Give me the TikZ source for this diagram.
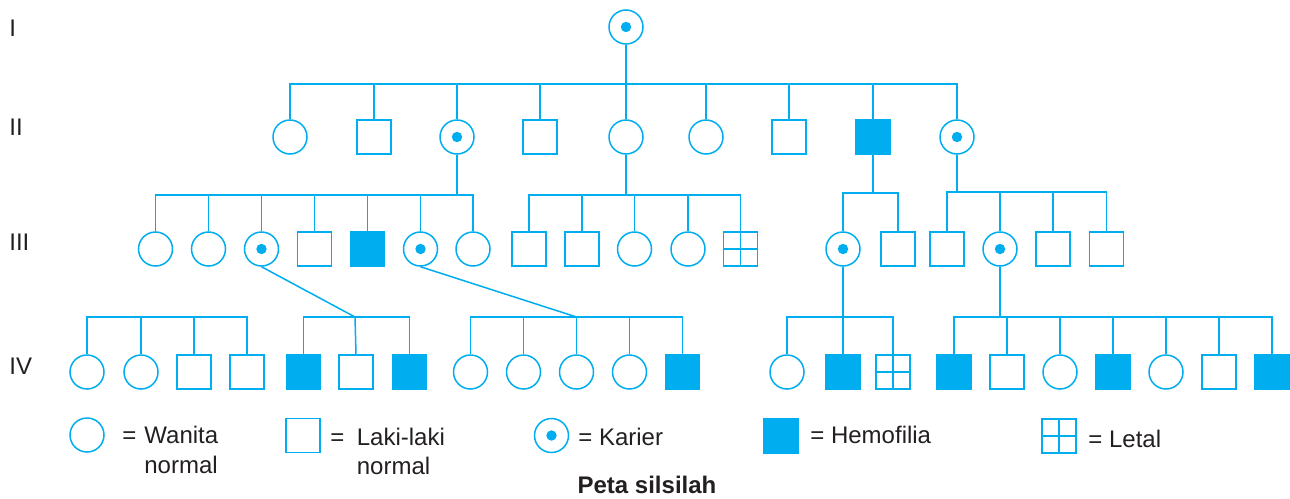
\documentclass[tikz,border=0pt]{standalone}
\usepackage{fontspec}
\setmainfont{Liberation Sans}
\usetikzlibrary{positioning}
\usepackage{xcolor}
\definecolor{silsilah}{HTML}{00AEEF}
\definecolor{teks}{HTML}{231F20}

\tikzset{
  person/.style={draw=silsilah, line width=0.75pt, inner sep=0pt, minimum size=17pt},
  female/.style={person, circle},
  male/.style={person, rectangle},
  carrier/.style={female, path picture={\fill[silsilah] (path picture bounding box.center) circle (2.6pt);}},
  hemofilia/.style={male, fill=silsilah},
  letal/.style={male, path picture={\draw[silsilah, line width=0.75pt]
      (path picture bounding box.north) -- (path picture bounding box.south)
      (path picture bounding box.west) -- (path picture bounding box.east);}},
  garis/.style={draw=silsilah, line width=0.75pt},
  gen/.style={anchor=west, inner sep=0pt, text=teks, font=\fontsize{12}{14}\selectfont},
  ket/.style={anchor=base west, inner sep=0pt, text=teks, font=\fontsize{12}{14}\selectfont}
}

\begin{document}
\begin{tikzpicture}[x=0.5pt, y=-0.5pt]
  \useasboundingbox (0,0) rectangle (1290,498);

  % generation labels
  \foreach \g/\y in {I/28, II/127, III/242, IV/366} {
      \node[gen] (lbl\g) at (9,\y) {\g};
    }

  % generation I
  \node[carrier] (I1) at (626,27) {};

  % generation II
  \foreach \n/\s/\x in {1/female/290, 2/male/374, 3/carrier/457, 4/male/540, 5/female/626,
      6/female/706, 7/male/789, 8/hemofilia/873, 9/carrier/957} {
      \node[\s] (II\n) at (\x,137) {};
    }

  % generation III
  \foreach \n/\s/\x in {1/female/155.5, 2/female/208.5, 3/carrier/261.5, 4/male/314.5,
      5/hemofilia/367.5, 6/carrier/420.5, 7/female/473, 8/male/529, 9/male/582,
      10/female/634.5, 11/female/688, 12/letal/740.5, 13/carrier/843, 14/male/898,
      15/male/947, 16/carrier/1000, 17/male/1053, 18/male/1106.5} {
      \node[\s] (III\n) at (\x,249) {};
    }

  % generation IV
  \foreach \n/\s/\x in {1/female/87, 2/female/141, 3/male/194, 4/male/247,
      5/hemofilia/303.5, 6/male/356, 7/hemofilia/409.5, 8/female/470.5, 9/female/523.5,
      10/female/576.5, 11/female/629.5, 12/hemofilia/682.5, 13/female/787,
      14/hemofilia/843, 15/letal/893, 16/hemofilia/954, 17/male/1007, 18/female/1060,
      19/hemofilia/1113, 20/female/1166, 21/male/1219, 22/hemofilia/1272} {
      \node[\s] (IV\n) at (\x,372) {};
    }

  % sibship bars
  \coordinate (bI) at (626,84);
  \coordinate (bII3) at (457,195);
  \coordinate (bII5) at (626,195);
  \coordinate (bII8) at (873,193);
  \coordinate (bII9) at (957,192);
  \coordinate (bL) at (170,317);
  \coordinate (bIII3) at (355,317);
  \coordinate (bIII6) at (576.5,317);
  \coordinate (bIII13) at (843,317);
  \coordinate (bIII16) at (1000,317);

  % I -> II
  \draw[garis] (I1.south) -- (bI);
  \draw[garis] (II1.north) |- (bI) -| (II9.north);
  \foreach \c in {II2,II3,II4,II5,II6,II7,II8} {
      \draw[garis] (\c.north) -- (\c.north |- bI);
    }

  % II -> III
  \draw[garis] (II3.south) -- (bII3);
  \draw[garis] (III1.north) |- (bII3) -| (III7.north);
  \foreach \c in {III2,III3,III4,III5,III6} {
      \draw[garis] (\c.north) -- (\c.north |- bII3);
    }

  \draw[garis] (II5.south) -- (bII5);
  \draw[garis] (III8.north) |- (bII5) -| (III12.north);
  \foreach \c in {III9,III10,III11} {
      \draw[garis] (\c.north) -- (\c.north |- bII5);
    }

  \draw[garis] (II8.south) -- (bII8);
  \draw[garis] (III13.north) |- (bII8) -| (III14.north);

  \draw[garis] (II9.south) -- (bII9);
  \draw[garis] (III15.north) |- (bII9) -| (III18.north);
  \foreach \c in {III16,III17} {
      \draw[garis] (\c.north) -- (\c.north |- bII9);
    }

  % III -> IV
  \draw[garis] (IV1.north) |- (bL) -| (IV4.north);
  \foreach \c in {IV2,IV3} {
      \draw[garis] (\c.north) -- (\c.north |- bL);
    }

  \draw[garis] (III3.south) -- (bIII3);
  \draw[garis] (IV5.north) |- (bIII3) -| (IV7.north);
  \draw[garis] (IV6.north) -- (bIII3);

  \draw[garis] (III6.south) -- (bIII6);
  \draw[garis] (IV8.north) |- (bIII6) -| (IV12.north);
  \foreach \c in {IV9,IV10,IV11} {
      \draw[garis] (\c.north) -- (\c.north |- bIII6);
    }

  \draw[garis] (III13.south) -- (bIII13);
  \draw[garis] (IV13.north) |- (bIII13) -| (IV15.north);
  \draw[garis] (IV14.north) -- (bIII13);

  \draw[garis] (III16.south) -- (bIII16);
  \draw[garis] (IV16.north) |- (bIII16) -| (IV22.north);
  \foreach \c in {IV17,IV18,IV19,IV20,IV21} {
      \draw[garis] (\c.north) -- (\c.north |- bIII16);
    }

  % legend
  \node[female] (kWanita) at (87,435) {};
  \node[ket] (eqWanita) at (122,443) {=};
  \node[ket] (tWanita) at (144,443) {Wanita};
  \node[ket] (tWanita2) at (144,473) {normal};

  \node[male] (kLaki) at (303,435.5) {};
  \node[ket] (eqLaki) at (330,445) {=};
  \node[ket] (tLaki) at (356.5,445) {Laki-laki};
  \node[ket] (tLaki2) at (356.5,474) {normal};

  \node[carrier] (kKarier) at (551.5,435.5) {};
  \node[ket] (tKarier) at (578,445) {= Karier};

  \node[hemofilia] (kHemo) at (781,436) {};
  \node[ket] (tHemo) at (810,443) {= Hemofilia};

  \node[letal] (kLetal) at (1059,436) {};
  \node[ket] (tLetal) at (1088,447) {= Letal};

  % caption
  \node[anchor=base, inner sep=0pt, text=teks, font=\fontsize{12}{14}\selectfont\bfseries]
    (judul) at (647,493) {Peta silsilah};
\end{tikzpicture}
\end{document}
